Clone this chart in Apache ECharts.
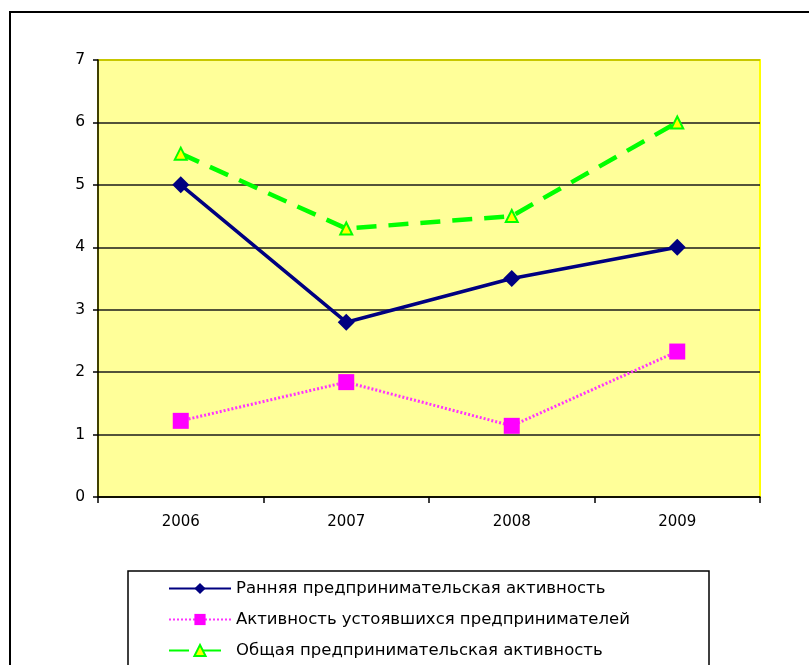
<!DOCTYPE html>
<html>
<head>
<meta charset="utf-8">
<script src="https://cdn.jsdelivr.net/npm/echarts@6/dist/echarts.min.js"></script>
<style>
  html, body { margin: 0; padding: 0; background: #ffffff; }
  #chart { width: 809px; height: 665px; }
</style>
</head>
<body>
<div id="chart"></div>
<script>
// Годы и показатели предпринимательской активности, %
var years = ['2006', '2007', '2008', '2009'];
var earlyActivity = [5.0, 2.8, 3.5, 4.0];
var establishedActivity = [1.22, 1.84, 1.14, 2.33];
var totalActivity = [5.5, 4.3, 4.5, 6.0];
var seriesNames = [
  'Ранняя предпринимательская активность',
  'Активность устоявшихся предпринимателей',
  'Общая предпринимательская активность'
];
var yTicks = [0, 1, 2, 3, 4, 5, 6, 7];

var chart = echarts.init(document.getElementById('chart'), null, { renderer: 'canvas' });

var font = '"DejaVu Sans", Arial, sans-serif';

chart.setOption({
  animation: false,
  backgroundColor: '#ffffff',
  textStyle: { fontFamily: font },
  graphic: [
    {
      type: 'rect',
      shape: { x: 10, y: 12, width: 820, height: 680 },
      style: { fill: null, stroke: '#000000', lineWidth: 2 },
      silent: true, z: 100
    },
    {
      type: 'rect',
      shape: { x: 128, y: 571, width: 581, height: 120 },
      style: { fill: null, stroke: '#000000', lineWidth: 1.5 },
      silent: true, z: 100
    }
  ],
  grid: {
    left: 98, top: 60, width: 662, height: 437,
    show: true,
    backgroundColor: '#ffff99',
    borderColor: '#ffff00',
    borderWidth: 2
  },
  legend: {
    orient: 'vertical',
    left: 168,
    top: 580,
    height: 150,
    padding: 0,
    itemWidth: 62,
    itemHeight: 14,
    itemGap: 14,
    data: seriesNames,
    textStyle: { fontFamily: font, fontSize: 16.5, lineHeight: 14, color: '#000000' }
  },
  xAxis: {
    type: 'category',
    data: years,
    boundaryGap: true,
    axisLine: { show: true, lineStyle: { color: '#000000', width: 1.5 } },
    axisTick: { show: true, length: 6, inside: false, lineStyle: { color: '#000000', width: 1.5 } },
    axisLabel: { fontFamily: font, fontSize: 15, color: '#000000', margin: 18 },
    splitLine: { show: false }
  },
  yAxis: {
    type: 'value',
    min: yTicks[0],
    max: yTicks[yTicks.length - 1],
    interval: 1,
    axisLine: { show: true, lineStyle: { color: '#000000', width: 1.5 } },
    axisTick: { show: true, length: 5, lineStyle: { color: '#000000', width: 1.5 } },
    axisLabel: { fontFamily: font, fontSize: 15.5, color: '#000000', margin: 13 },
    splitLine: {
      show: true,
      lineStyle: {
        color: ['#000000', '#1a1a1a', '#1a1a1a', '#1a1a1a', '#1a1a1a', '#1a1a1a', '#1a1a1a', '#b4b400'],
        width: 1.5
      }
    }
  },
  series: [
    {
      name: seriesNames[0],
      type: 'line',
      data: earlyActivity,
      symbol: 'diamond',
      symbolSize: 17,
      lineStyle: { color: '#000080', width: 3.5 },
      itemStyle: { color: '#000080' },
      z: 4
    },
    {
      name: seriesNames[1],
      type: 'line',
      data: establishedActivity,
      symbol: 'rect',
      symbolSize: 16,
      lineStyle: { color: '#ff33ff', width: 3, type: [2, 2] },
      itemStyle: { color: '#ff00ff' },
      z: 3
    },
    {
      name: seriesNames[2],
      type: 'line',
      data: totalActivity,
      symbol: 'triangle',
      symbolSize: 12,
      lineStyle: { color: '#00ff00', width: 4.5, type: [20, 12] },
      itemStyle: { color: '#ffff00', borderColor: '#00ff00', borderWidth: 2 },
      z: 5
    }
  ]
});
</script>
</body>
</html>
